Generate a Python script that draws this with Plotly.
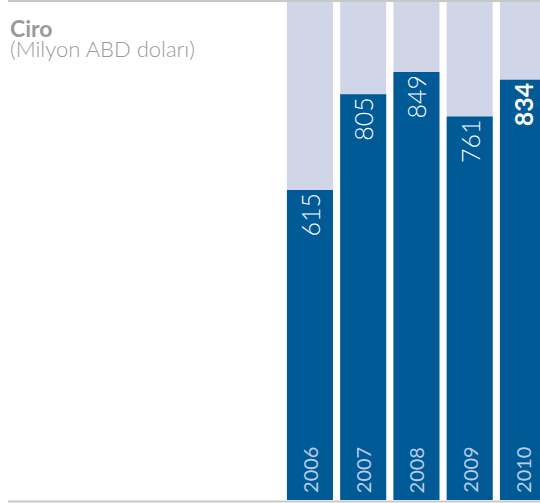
import plotly.graph_objects as go

years = ["2006", "2007", "2008", "2009", "2010"]
revenue = [615, 805, 849, 761, 834]
value_labels = ["615", "805", "849", "761", "<b>834</b>"]
background_max = 990

DARK = "#005a96"
LIGHT = "#d0d5e8"
GRAY = "#9a9a9a"
FONT = "Lato"

fig = go.Figure()
fig.add_trace(go.Bar(
    x=years, y=[background_max] * len(years), marker=dict(color=LIGHT, line=dict(width=0)),
    width=0.864, hoverinfo="skip", showlegend=False,
))
fig.add_trace(go.Bar(
    x=years, y=revenue, marker=dict(color=DARK, line=dict(width=0)),
    width=0.864, text=value_labels, textposition="inside", insidetextanchor="end",
    textangle=-90, textfont=dict(family=FONT, size=25, color="white", weight=300),
    constraintext="none", cliponaxis=False, showlegend=False,
))

for i, yr in enumerate(years):
    fig.add_annotation(
        x=i, y=0, xref="x", yref="y", text=yr, showarrow=False, textangle=-90,
        xanchor="center", yanchor="bottom", yshift=5,
        font=dict(family=FONT, size=20, color="#b8cce6", weight=400),
    )

fig.add_annotation(
    x=8 / 540, y=1 - 12 / 503, xref="paper", yref="paper", text="<b>Ciro</b>",
    showarrow=False, xanchor="left", yanchor="top",
    font=dict(family=FONT, size=23, color=GRAY),
)
fig.add_annotation(
    x=8 / 540, y=1 - 33 / 503, xref="paper", yref="paper", text="(Milyon ABD doları)",
    showarrow=False, xanchor="left", yanchor="top",
    font=dict(family=FONT, size=22, color=GRAY, weight=300),
)

fig.add_shape(type="line", xref="paper", yref="paper", x0=8 / 540, x1=1,
              y0=1 - 1 / 503, y1=1 - 1 / 503, line=dict(color="#c8c8c8", width=2))
fig.add_shape(type="line", xref="paper", yref="y", x0=8 / 540, x1=1,
              y0=-3, y1=-3, line=dict(color="#c8c8c8", width=2))

fig.update_layout(
    width=540, height=503, margin=dict(l=0, r=0, t=0, b=0),
    paper_bgcolor="white", plot_bgcolor="white", barmode="overlay",
    xaxis=dict(type="category", range=[-5.82, 4.32], visible=False, fixedrange=True),
    yaxis=dict(range=[-5.95, 992], visible=False, fixedrange=True),
    uniformtext=dict(mode=False),
)
fig.write_html(
    "out.html", config={"displayModeBar": False},
    post_script="document.body.style.margin='0';document.body.style.overflow='hidden';",
)
